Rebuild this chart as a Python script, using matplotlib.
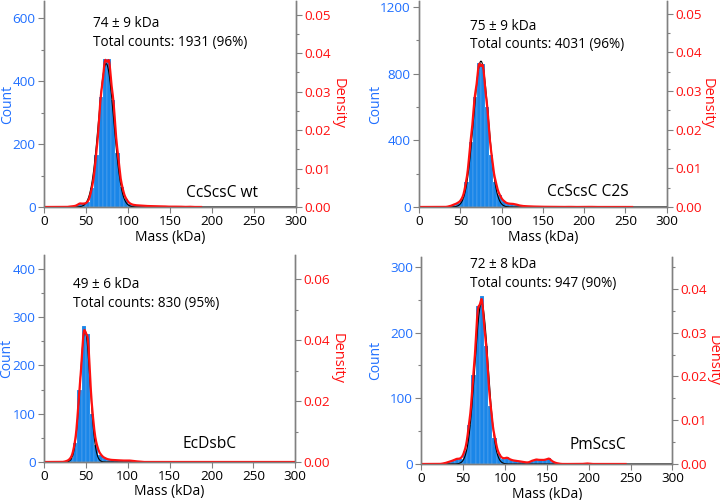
import numpy as np
import matplotlib.pyplot as plt

plt.rcParams['font.family'] = ['Open Sans', 'DejaVu Sans']

BIN_W = 5

names = ["CcScsC wt", "CcScsC C2S", "EcDsbC", "PmScsC"]
mass_text = ["74 ± 9 kDa", "75 ± 9 kDa", "49 ± 6 kDa", "72 ± 8 kDa"]
total_text = ["Total counts: 1931 (96%)", "Total counts: 4031 (96%)",
              "Total counts: 830 (95%)", "Total counts: 947 (90%)"]

# histogram counts, 5 kDa bins, first bin edge in bin_start
bin_start = [30, 35, 25, 25]
counts_wt = [2, 3, 12, 10, 15, 60, 165, 350, 470, 470, 340, 170, 65, 25, 10,
             6, 5, 4, 3, 3, 2, 2, 2, 1, 1, 1, 1, 0, 1]
counts_c2s = [5, 15, 25, 50, 150, 390, 660, 865, 860, 600, 310, 150, 70, 35,
              20, 20, 15, 8, 5, 4, 3, 2, 2, 1, 1, 1, 1, 1, 0, 1, 0, 0, 0, 0, 1]
counts_ecdsbc = [2, 8, 40, 150, 282, 265, 100, 35, 15, 8, 5, 4, 4, 3, 3, 3, 2, 1]
counts_pmscsc = [1, 3, 5, 8, 8, 20, 60, 135, 240, 256, 180, 88, 40, 15, 8, 10,
                 6, 5, 4, 3, 2, 5, 7, 6, 6, 9, 3, 1, 0, 0, 0, 0, 0, 0, 1]
all_counts = [counts_wt, counts_c2s, counts_ecdsbc, counts_pmscsc]

# gaussian fit parameters (black line)
fit_mu = [74, 75, 49, 72]
fit_sigma = [9, 9, 6, 8]
fit_amp = [455, 875, 272, 245]

kde_bw = [2.5, 2.5, 2.5, 2.5]
kde_end = [187, 258, 300, 244]

count_max = [654, 1236, 429, 315]
count_ticks = [[0, 200, 400, 600], [0, 400, 800, 1200],
               [0, 100, 200, 300, 400], [0, 100, 200, 300]]
density_max = [0.0536, 0.0533, 0.0679, 0.0473]
density_ticks = [[0, 0.01, 0.02, 0.03, 0.04, 0.05],
                 [0, 0.01, 0.02, 0.03, 0.04, 0.05],
                 [0, 0.02, 0.04, 0.06],
                 [0, 0.01, 0.02, 0.03, 0.04]]

text_x = [58, 62, 34.5, 58.6]
text_y = [0.925, 0.915, 0.895, 1.0]
name_x = [169, 155, 165, 177]
name_y = [0.068, 0.072, 0.087, 0.092]
count_lab_x = [-0.143, -0.177, -0.148, -0.183]
dens_lab_x = [1.167, 1.165, 1.167, 1.163]
mass_lab_y = [-0.15, -0.15, -0.143, -0.145]

BLUE = '#1a86e8'
TICK_BLUE = '#1f6fff'
RED = '#ff1010'
GRAY = '#808080'

fig = plt.figure(figsize=(7.2, 5.0), dpi=100)
rects = [[0.0611, 0.586, 0.350, 0.412],
         [0.582, 0.586, 0.344, 0.412],
         [0.0611, 0.076, 0.349, 0.414],
         [0.585, 0.072, 0.349, 0.414]]

for i in range(4):
    ax = fig.add_axes(rects[i])
    counts = np.array(all_counts[i], dtype=float)
    edges = bin_start[i] + BIN_W * np.arange(len(counts))
    centers = edges + BIN_W / 2

    ax.bar(edges, counts, width=BIN_W, align='edge', color=BLUE,
           edgecolor='white', linewidth=0.1, zorder=2)

    xs = np.linspace(0, 300, 800)
    gauss = fit_amp[i] * np.exp(-0.5 * ((xs - fit_mu[i]) / fit_sigma[i]) ** 2)
    ax.plot(xs, gauss, color='black', lw=0.8, zorder=3)

    # kde of the histogram, in count units
    xk = np.linspace(0, kde_end[i], 800)
    h = kde_bw[i]
    kern = np.exp(-0.5 * ((xk[:, None] - centers[None, :]) / h) ** 2) / (h * np.sqrt(2 * np.pi))
    kde = (kern * counts[None, :] * BIN_W).sum(axis=1)
    ax.plot(xk, kde, color=RED, lw=1.6, zorder=4)

    ax.set_xlim(0, 300)
    ax.set_ylim(0, count_max[i])
    ax.set_xticks(range(0, 301, 50))
    ax.set_yticks(count_ticks[i])
    step = count_ticks[i][1] - count_ticks[i][0]
    ax.set_yticks(np.arange(step / 2, count_max[i], step), minor=True)

    ax2 = ax.twinx()
    ax2.set_ylim(0, density_max[i])
    ax2.set_yticks(density_ticks[i])
    dstep = density_ticks[i][1] - density_ticks[i][0]
    ax2.set_yticks(np.arange(dstep / 2, density_max[i], dstep), minor=True)
    ax2.set_yticklabels([f"{t:.2f}" for t in density_ticks[i]])

    for a in (ax, ax2):
        a.spines['top'].set_visible(False)
        for s in ('left', 'right', 'bottom'):
            a.spines[s].set_color(GRAY)
            a.spines[s].set_linewidth(1.0)
        a.tick_params(which='both', color=GRAY, width=0.8)
        a.tick_params(which='major', length=4)
        a.tick_params(which='minor', length=2.5)

    ax.tick_params(axis='y', labelcolor=TICK_BLUE, labelsize=9.7, pad=2)
    ax.tick_params(axis='x', labelsize=9.7, pad=1.5)
    ax2.tick_params(axis='y', labelcolor=RED, labelsize=9.7, pad=2)

    ax.set_ylabel("Count", color=TICK_BLUE, fontsize=10, va='center')
    ax.yaxis.set_label_coords(count_lab_x[i], 0.5)
    ax2.set_ylabel("Density", color=RED, fontsize=10.5, rotation=270, va='center')
    ax2.yaxis.set_label_coords(dens_lab_x[i], 0.5)
    ax.set_xlabel("Mass (kDa)", fontsize=10, va='center')
    ax.xaxis.set_label_coords(0.5, mass_lab_y[i])

    ax.text(text_x[i], text_y[i], mass_text[i] + "\n" + total_text[i],
            transform=ax.get_xaxis_transform(), ha='left', va='top',
            fontsize=9.8, linespacing=1.35)
    ax.text(name_x[i], name_y[i], names[i], transform=ax.get_xaxis_transform(),
            ha='left', va='center', fontsize=11.2)

fig.savefig('out.png', dpi=100)
